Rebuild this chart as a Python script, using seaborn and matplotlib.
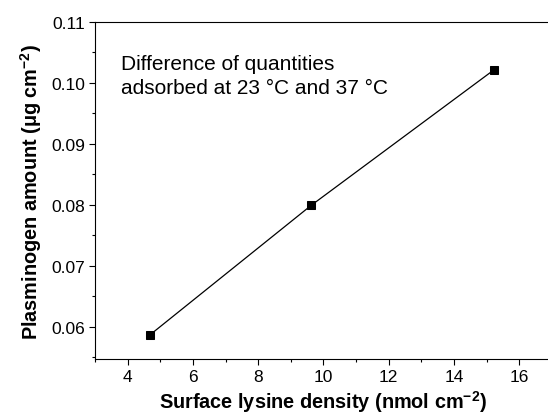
import matplotlib
matplotlib.use("Agg")
import matplotlib.pyplot as plt
import seaborn as sns
import pandas as pd
from matplotlib.ticker import MultipleLocator

lysine_density = [4.67, 9.62, 15.21]
plasminogen = [0.0586, 0.0799, 0.1021]

sns.set_style("ticks")
plt.rcParams["font.family"] = ["Liberation Sans", "DejaVu Sans"]
plt.rcParams["mathtext.fontset"] = "custom"
plt.rcParams["mathtext.rm"] = "Liberation Sans:bold"
plt.rcParams["mathtext.default"] = "rm"
plt.rcParams["text.color"] = "black"
plt.rcParams["axes.labelcolor"] = "black"
plt.rcParams["xtick.color"] = "black"
plt.rcParams["ytick.color"] = "black"

df = pd.DataFrame({"x": lysine_density, "y": plasminogen})

fig = plt.figure(figsize=(5.48, 4.14), dpi=100)
ax = fig.add_axes([95/548, 54/414, 457/548, 337/414])

sns.lineplot(data=df, x="x", y="y", ax=ax, color="black", linewidth=0.9,
             marker="s", markersize=5.5, markeredgecolor="black", markerfacecolor="black")

ax.set_xlim(3, 17)
ax.set_ylim(0.0547, 0.11)
ax.xaxis.set_major_locator(MultipleLocator(2))
ax.xaxis.set_minor_locator(MultipleLocator(1))
ax.yaxis.set_major_locator(MultipleLocator(0.01))
ax.yaxis.set_minor_locator(MultipleLocator(0.005))
ax.yaxis.set_major_formatter(plt.FuncFormatter(lambda v, p: f"{v:.2f}"))

for s in ax.spines.values():
    s.set_visible(True)
    s.set_linewidth(0.8)
    s.set_color("black")
ax.tick_params(which="major", length=4.3, width=0.8, direction="out", labelsize=12.5, pad=3,
               colors="black", labelcolor="black")
ax.tick_params(which="minor", length=2.2, width=0.8, direction="out", colors="black")
ax.tick_params(axis="x", top=False, which="both")
ax.tick_params(axis="y", right=False, which="both")

ax.set_xlabel("Surface lysine density (nmol cm$^{-2}$)", fontsize=14.3, fontweight="bold",
              labelpad=3, color="black")
ax.set_ylabel("Plasminogen amount (μg cm$^{-2}$)", fontsize=14.3, fontweight="bold",
              labelpad=5, color="black")

ax.text(0.057, 0.905, "Difference of quantities\nadsorbed at 23 °C and 37 °C",
        transform=ax.transAxes, fontsize=15, va="top", ha="left", linespacing=1.3, color="black")

fig.savefig("out.png", dpi=100)
